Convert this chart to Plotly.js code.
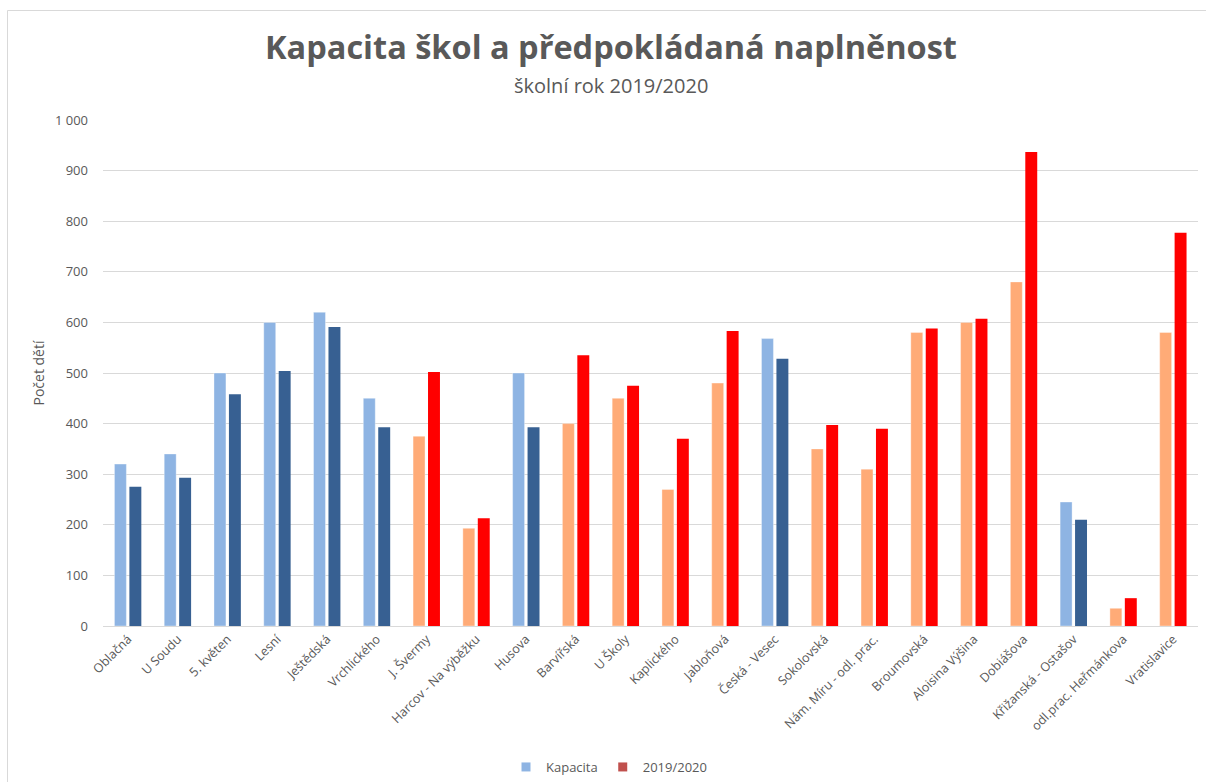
<!DOCTYPE html>
<html>
<head>
<meta charset="utf-8">
<script src="https://cdn.plot.ly/plotly-3.0.1.min.js"></script>
<style>
  html, body { margin: 0; padding: 0; background: #fff; }
  #chart { width: 1206px; height: 782px; }
</style>
</head>
<body>
<div id="chart"></div>
<script>
const categories = ["Oblačná", "U Soudu", "5. květen", "Lesní", "Ještědská", "Vrchlického", "J. Švermy", "Harcov - Na výběžku", "Husova", "Barvířská", "U Školy", "Kaplického", "Jabloňová", "Česká - Vesec", "Sokolovská", "Nám. Míru - odl. prac.", "Broumovská", "Aloisina Výšina", "Dobiášova", "Křižanská - Ostašov", "odl.prac. Heřmánkova", "Vratislavice"];
const kapacita = [320, 340, 500, 600, 620, 450, 375, 193, 500, 400, 450, 270, 480, 568, 350, 310, 580, 600, 680, 245, 35, 580];
const naplnenost = [275, 293, 458, 504, 591, 393, 502, 213, 393, 535, 475, 370, 583, 528, 397, 390, 588, 607, 937, 210, 55, 777];
const seriesNames = ["Kapacita", "2019/2020"];

const capOk = "#8EB4E3", fillOk = "#376092";
const capOver = "#FFAB77", fillOver = "#FF0000";
const legendColors = ["#8EB4E3", "#C0504D"];

const over = categories.map((c, i) => naplnenost[i] > kapacita[i]);
const capColors = over.map(o => o ? capOver : capOk);
const fillColors = over.map(o => o ? fillOver : fillOk);

const traces = [
  { type: "bar", x: categories, y: kapacita, name: seriesNames[0], showlegend: false,
    marker: { color: capColors, line: { color: "rgba(255,255,255,0.35)", width: 1 } },
    hovertemplate: "%{x}: %{y}<extra>" + seriesNames[0] + "</extra>" },
  { type: "bar", x: categories, y: naplnenost, name: seriesNames[1], showlegend: false,
    marker: { color: fillColors },
    hovertemplate: "%{x}: %{y}<extra>" + seriesNames[1] + "</extra>" },
  { type: "scatter", mode: "markers", x: [null], y: [null], name: seriesNames[0],
    marker: { symbol: "square", size: 9, color: legendColors[0] } },
  { type: "scatter", mode: "markers", x: [null], y: [null], name: seriesNames[1],
    marker: { symbol: "square", size: 9, color: legendColors[1] } }
];

const L = 103, R = 8, T = 120, B = 156, W = 1206, H = 782;
const pw = W - L - R, ph = H - T - B;
const px = v => (v - L) / pw;
const py = v => (H - B - v) / ph;

const layout = {
  width: W, height: H,
  margin: { l: L, r: R, t: T, b: B, pad: 0, autoexpand: false },
  paper_bgcolor: "#ffffff", plot_bgcolor: "#ffffff",
  font: { family: "Open Sans, sans-serif", color: "#595959", size: 12 },
  separators: ", ",
  barmode: "group", bargap: 0.4, bargroupgap: 0.2,
  title: { text: "<b>Kapacita škol a předpokládaná naplněnost</b>",
           font: { family: "Open Sans, sans-serif", size: 32.5, color: "#595959" },
           x: 611 / W, xanchor: "center", y: 1 - 48 / H, yanchor: "middle", yref: "container" },
  annotations: [
    { text: "školní rok 2019/2020", xref: "paper", yref: "paper",
      x: px(611), y: py(86), xanchor: "center", yanchor: "middle", showarrow: false,
      font: { family: "Open Sans, sans-serif", size: 20, color: "#595959" } }
  ],
  xaxis: {
    type: "category", tickangle: -45, showgrid: false, zeroline: false,
    showline: true, linecolor: "#D9D9D9", linewidth: 1, ticks: "",
    tickfont: { size: 12.5, color: "#595959" }, automargin: false, fixedrange: true
  },
  yaxis: {
    range: [0, 1000], dtick: 100, tickformat: ",d", showgrid: true, gridcolor: "#D9D9D9",
    gridwidth: 1, zeroline: false, showline: false, ticks: "", ticklen: 0,
    tickfont: { size: 13, color: "#595959" }, automargin: false, fixedrange: true,
    ticklabelstandoff: 14,
    title: { text: "Počet dětí", font: { size: 14, color: "#595959" }, standoff: 6 }
  },
  legend: { orientation: "h", x: px(609), xanchor: "center", y: py(767), yanchor: "middle",
            font: { size: 13, color: "#595959" }, itemwidth: 30, tracegroupgap: 0 },
  shapes: [
    { type: "line", xref: "paper", yref: "paper", x0: px(7.5), x1: px(1220), y0: py(10.5), y1: py(10.5),
      line: { color: "#D9D9D9", width: 1 } },
    { type: "line", xref: "paper", yref: "paper", x0: px(7.5), x1: px(7.5), y0: py(10.5), y1: py(800),
      line: { color: "#D9D9D9", width: 1 } }
  ]
};

Plotly.newPlot("chart", traces, layout, { displayModeBar: false, responsive: false });
</script>
</body>
</html>
